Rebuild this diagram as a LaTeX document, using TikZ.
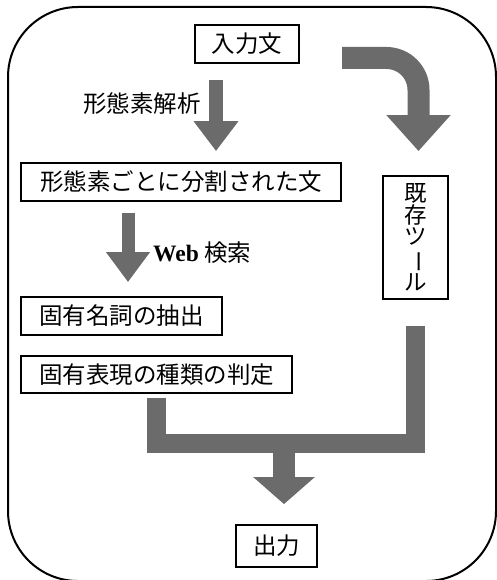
\documentclass[tikz,border=0pt]{standalone}
\usepackage{fontspec}
\usepackage{graphicx}
\setmainfont{Liberation Serif}
\newfontfamily\jp{Noto Sans CJK JP}
\usetikzlibrary{arrows.meta}
\begin{document}
\begin{tikzpicture}
	[
	x=1pt,y=-1pt,
	box/.style={rectangle,draw,line width=1.8pt,inner sep=0pt,text centered,font=\jp\fontsize{23.5}{23.5}\selectfont},
	lbl/.style={inner sep=0pt,font=\jp\fontsize{23.5}{23.5}\selectfont},
	flow/.style={draw=black!58,line join=miter},
	blockarrow/.style={flow,-{Triangle[width=#1,length=30pt]}},
	]
	\useasboundingbox (0,0) rectangle (496,580);
	\draw[line width=2pt,rounded corners=70pt] (8,7) rectangle (496,581);
	
	\node[box,minimum width=104pt,minimum height=38pt] (in) at (247,44) {入力文};
	\node[box,minimum width=320pt,minimum height=38pt] (morph) at (181,182) {形態素ごとに分割された文};
	\node[box,minimum width=201pt,minimum height=38pt] (ne) at (121.5,316) {固有名詞の抽出};
	\node[box,minimum width=271pt,minimum height=37pt] (type) at (156.5,374.5) {固有表現の種類の判定};
	\node[box,minimum width=65pt,minimum height=123pt,align=center,font=\jp\fontsize{22.5}{21.5}\selectfont] (tool) at (415.5,237.5) {既\\存\\ツ\\\rotatebox[origin=c]{-90}{ー}\\ル};
	\node[box,minimum width=81pt,minimum height=42pt] (out) at (276.5,546) {出力};
	
	\node[lbl] (lmorph) at (142,104) {形態素解析};
	\node[lbl,anchor=west] (lweb) at (153,253) {\textrm{\textbf{Web}} 検索};
	
	\coordinate (c1) at (216,0);
	\coordinate (c2) at (128,0);
	\coordinate (ts) at (342,58);
	\coordinate (j) at (284,443);
	
	\draw[blockarrow=43pt,line width=14pt,shorten <=16pt,shorten >=11pt] (in.south -| c1) -- (morph.north -| c1);
	\draw[blockarrow=42pt,line width=13pt,shorten <=11pt,shorten >=14pt] (morph.south -| c2) -- (ne.north -| c2);
	\draw[flow,-{Triangle[width=62pt,length=36pt]},line width=22pt,rounded corners=32pt,shorten >=24pt] (ts) -| ([xshift=3pt]tool.north);
	\draw[flow,line width=19pt,shorten <=26pt,shorten >=4pt] (tool.south) |- (j) -| (type.south);
	\draw[flow,-{Triangle[width=60pt,length=27pt]},line width=22pt,shorten >=20pt] (j) -- (j |- out.north);
\end{tikzpicture}
\end{document}
